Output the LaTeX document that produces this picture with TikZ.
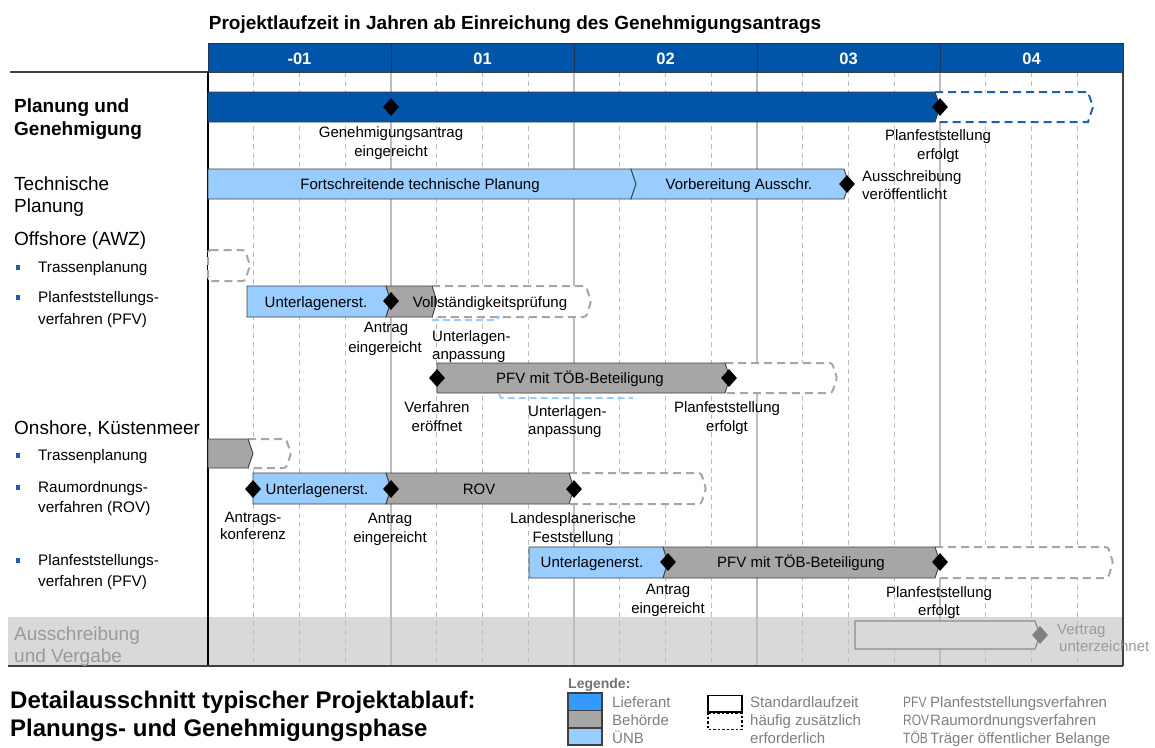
\documentclass[tikz,border=0pt]{standalone}
\usepackage{fontspec}
\usepackage{graphicx}
\setmainfont{Liberation Sans}
\usetikzlibrary{shapes.geometric}
\definecolor{hdrblue}{HTML}{0055A8}
\definecolor{hdredge}{HTML}{1F3458}
\definecolor{nbblue}{HTML}{99CCFF}
\definecolor{behgray}{HTML}{A6A6A6}
\definecolor{lieblue}{HTML}{3399FF}
\definecolor{bandgray}{HTML}{D9D9D9}
\definecolor{gridgray}{HTML}{BDBDBD}
\definecolor{dashgray}{HTML}{A6A6A6}
\definecolor{dashblue}{HTML}{2060B0}
\definecolor{edgegray}{HTML}{404040}
\definecolor{txtgray}{HTML}{7F7F7F}
\definecolor{bandtxt}{HTML}{9A9A9A}
\definecolor{agray}{HTML}{8C8C8C}
\definecolor{msgray}{HTML}{808080}
\definecolor{bulblue}{HTML}{1F5FAF}
% chevron bar: style, left x, tip x, top y, bottom y
\newcommand\chevR[5]{\path[#1] (#2,#4) -- ({#3-5},#4) -- (#3,{(#4+#5)/2}) -- ({#3-5},#5) -- (#2,#5) -- cycle;}
% notched chevron segment (left edge follows previous tip)
\newcommand\chevN[5]{\path[#1] ({#2-5},#4) -- ({#3-5},#4) -- (#3,{(#4+#5)/2}) -- ({#3-5},#5) -- ({#2-5},#5) -- (#2,{(#4+#5)/2}) -- cycle;}
% open dashed extension
\newcommand\chevD[5]{\path[#1] ({#2-5},#4) -- ({#3-5},#4) -- (#3,{(#4+#5)/2}) -- ({#3-5},#5) -- ({#2-5},#5);}
\newcommand\abbr[1]{\scalebox{0.8}[1]{#1}}
\begin{document}
\begin{tikzpicture}[x=1pt,y=-1pt,
  lbl/.style={font=\fontsize{15}{18}\selectfont, inner sep=0pt, anchor=base},
  lblw/.style={lbl, anchor=base west},
  rowlbl/.style={font=\fontsize{19}{22}\selectfont, inner sep=0pt, anchor=base west},
  bul/.style={font=\fontsize{15.3}{18}\selectfont, inner sep=0pt, anchor=base west},
  yr/.style={font=\bfseries\fontsize{16.5}{19}\selectfont, text=white, inner sep=0pt, anchor=base},
  leg/.style={font=\fontsize{15}{18}\selectfont, text=txtgray, inner sep=0pt, anchor=base west},
  barD/.style={fill=hdrblue, draw=edgegray, line width=0.9pt},
  barL/.style={fill=nbblue, draw=edgegray, line width=0.9pt},
  barG/.style={fill=behgray, draw=edgegray, line width=0.9pt},
  barA/.style={fill=bandgray, draw=agray, line width=1.2pt},
  dashG/.style={fill=white, draw=dashgray, line width=2pt, dash pattern=on 8pt off 5pt, rounded corners=2.5pt},
  dashB/.style={fill=white, draw=dashblue, line width=2pt, dash pattern=on 8pt off 5pt},
  dashL/.style={draw=nbblue, line width=2pt, dash pattern=on 7pt off 4pt},
  ms/.style={diamond, fill=black, minimum width=16pt, minimum height=18pt, inner sep=0pt},
  msg/.style={ms, fill=msgray},
  gsolid/.style={draw=gridgray, line width=1.2pt},
  gdash/.style={draw=gridgray, line width=0.8pt, dash pattern=on 5pt off 4pt},
  bulsq/.style={fill=bulblue, minimum width=4pt, minimum height=5pt, inner sep=0pt},
]
\useasboundingbox (0,0) rectangle (1155,747);
\fill[white] (0,0) rectangle (1155,747);

% ---- title
\node[font=\bfseries\fontsize{19}{22}\selectfont, inner sep=0pt, anchor=base] (title) at (515,29) {Projektlaufzeit in Jahren ab Einreichung des Genehmigungsantrags};

% ---- band Ausschreibung
\fill[bandgray] (8,617) rectangle (1123,666);

% ---- grid
\foreach \k in {1,2,3,5,6,7,9,10,11,13,14,15,17,18,19}
  \draw[gdash] ({208+45.75*\k},72) -- ({208+45.75*\k},666);
\foreach \xx in {391,574,757,940}
  \draw[gsolid] (\xx,72) -- (\xx,666);

% ---- header
\path[fill=hdrblue, draw=hdredge, line width=1pt] (208,43) rectangle (1123,72);
\foreach \xx in {391,574,757,940}
  \draw[hdredge, line width=1pt] (\xx,43) -- (\xx,72);
\node[yr] (y1) at (299.5,64) {-01};
\node[yr] (y2) at (482.5,64) {01};
\node[yr] (y3) at (665.5,64) {02};
\node[yr] (y4) at (848.5,64) {03};
\node[yr] (y5) at (1031.5,64) {04};

% ---- frame lines
\draw[edgegray, line width=1.6pt] (10,72) -- (1123,72);
\draw[black, line width=1.2pt] (208,72) -- (208,666);
\draw[edgegray, line width=1.2pt] (1123,72) -- (1123,666);
\draw[edgegray, line width=1.6pt] (8,666) -- (1123,666);

% ---- dashed extensions (drawn first)
\chevD{dashB}{940}{1093}{92}{122}
\chevR{dashG}{208}{250}{250}{281}
\chevD{dashG}{437}{591}{286}{317}
\chevD{dashG}{730}{837}{363}{393}
\chevD{dashG}{253}{291}{439}{468}
\chevD{dashG}{574}{706}{473}{504}
\chevD{dashG}{940}{1113}{547}{578}

% ---- Unterlagenanpassung (light blue dashed)
\draw[dashL] (432,320) -- (497,320) -- (499,316);
\draw[dashL] (499,394) -- (501,398) -- (633,398);

% ---- solid bars
\chevR{barD}{208}{940}{92}{122}
\chevR{barL}{208}{636}{169}{199}
\chevN{barL}{636}{849}{169}{199}
\chevR{barL}{247}{391}{286}{317}
\chevN{barG}{391}{437}{286}{317}
\chevR{barG}{437}{730}{363}{393}
\chevR{barG}{208}{253}{439}{468}
\chevR{barL}{253}{391}{473}{504}
\chevN{barG}{391}{574}{473}{504}
\chevR{barL}{529}{668}{547}{578}
\chevN{barG}{668}{940}{547}{578}
\chevR{barA}{855}{1040}{621}{649}

% ---- bar texts
\node[lbl] (b1) at (420,189) {Fortschreitende technische Planung};
\node[lbl] (b2) at (739,189) {Vorbereitung Ausschr.};
\node[lbl] (b3) at (316,307) {Unterlagenerst.};
\node[lbl] (b4) at (490,307) {Vollständigkeitsprüfung};
\node[lbl] (b5) at (580,383) {PFV mit TÖB-Beteiligung};
\node[lbl] (b6) at (317,494) {Unterlagenerst.};
\node[lbl] (b7) at (479,494) {ROV};
\node[lbl] (b8) at (592,567) {Unterlagenerst.};
\node[lbl] (b9) at (801,567) {PFV mit TÖB-Beteiligung};

% ---- milestones
\node[ms] (m1) at (391,107) {};
\node[ms] (m2) at (940,107) {};
\node[ms] (m3) at (847,184) {};
\node[ms] (m4) at (391,301) {};
\node[ms] (m5) at (437,378) {};
\node[ms] (m6) at (729,378) {};
\node[ms] (m7) at (253,489) {};
\node[ms] (m8) at (391,489) {};
\node[ms] (m9) at (574,489) {};
\node[ms] (m10) at (668,562) {};
\node[ms] (m11) at (940,562) {};
\node[msg] (m12) at (1040,635) {};

% ---- milestone labels
\node[lbl] (l1a) at (391,137) {Genehmigungsantrag};
\node[lbl] (l1b) at (391,156) {eingereicht};
\node[lbl] (l2a) at (938,140) {Planfeststellung};
\node[lbl] (l2b) at (938,159) {erfolgt};
\node[lblw] (l3a) at (862,181) {Ausschreibung};
\node[lblw] (l3b) at (862,199) {veröffentlicht};
\node[lbl] (l4a) at (386,332) {Antrag};
\node[lbl] (l4b) at (385,352) {eingereicht};
\node[lblw] (l5a) at (432,341) {Unterlagen-};
\node[lblw] (l5b) at (432,359) {anpassung};
\node[lbl] (l6a) at (437,412) {Verfahren};
\node[lbl] (l6b) at (437,431) {eröffnet};
\node[lblw] (l7a) at (528,416) {Unterlagen-};
\node[lblw] (l7b) at (528,434) {anpassung};
\node[lbl] (l8a) at (727,412) {Planfeststellung};
\node[lbl] (l8b) at (727,431) {erfolgt};
\node[lbl] (l9a) at (253,522) {Antrags-};
\node[lbl] (l9b) at (253,539) {konferenz};
\node[lbl] (l10a) at (390,523) {Antrag};
\node[lbl] (l10b) at (390,542) {eingereicht};
\node[lbl] (l11a) at (573,523) {Landesplanerische};
\node[lbl] (l11b) at (573,542) {Feststellung};
\node[lbl] (l12a) at (668,594) {Antrag};
\node[lbl] (l12b) at (668,613) {eingereicht};
\node[lbl] (l13a) at (939,597) {Planfeststellung};
\node[lbl] (l13b) at (939,615) {erfolgt};
\node[lblw, text=bandtxt] (l14a) at (1057,634) {Vertrag};
\node[lblw, text=bandtxt] (l14b) at (1059,651) {unterzeichnet};

% ---- row labels
\node[rowlbl, font=\bfseries\fontsize{19}{22}\selectfont] (r1a) at (14,112) {Planung und};
\node[rowlbl, font=\bfseries\fontsize{19}{22}\selectfont] (r1b) at (14,135) {Genehmigung};
\node[rowlbl] (r2a) at (14,190) {Technische};
\node[rowlbl] (r2b) at (14,212) {Planung};
\node[rowlbl] (r3) at (14,245) {Offshore (AWZ)};
\node[rowlbl] (r4) at (14,434) {Onshore, Küstenmeer};
\node[rowlbl, text=bandtxt] (r5a) at (14,640) {Ausschreibung};
\node[rowlbl, text=bandtxt] (r5b) at (14,662) {und Vergabe};

% ---- bullets
\node[bulsq] (q1) at (18,267) {};
\node[bul] (s1) at (38,272) {Trassenplanung};
\node[bulsq] (q2) at (18,297) {};
\node[bul] (s2a) at (38,302) {Planfeststellungs-};
\node[bul] (s2b) at (38,324) {verfahren (PFV)};
\node[bulsq] (q3) at (18,455) {};
\node[bul] (s3) at (38,460) {Trassenplanung};
\node[bulsq] (q4) at (18,487) {};
\node[bul] (s4a) at (38,492) {Raumordnungs-};
\node[bul] (s4b) at (38,512) {verfahren (ROV)};
\node[bulsq] (q5) at (18,560) {};
\node[bul] (s5a) at (38,565) {Planfeststellungs-};
\node[bul] (s5b) at (38,586) {verfahren (PFV)};

% ---- bottom title
\node[font=\bfseries\fontsize{24}{28}\selectfont, inner sep=0pt, anchor=base west] (bt1) at (10,708) {Detailausschnitt typischer Projektablauf:};
\node[font=\bfseries\fontsize{24}{28}\selectfont, inner sep=0pt, anchor=base west] (bt2) at (10,736) {Planungs- und Genehmigungsphase};

% ---- legend
\node[font=\bfseries\fontsize{14}{16}\selectfont, text=txtgray!90!black, inner sep=0pt, anchor=base west] (lg) at (568,688) {Legende:};
\path[fill=lieblue, draw=edgegray, line width=1.2pt] (568,693) rectangle (602,710.5);
\path[fill=behgray, draw=edgegray, line width=1.2pt] (568,710.5) rectangle (602,728);
\path[fill=nbblue, draw=edgegray, line width=1.2pt] (568,728) rectangle (602,745);
\node[leg] (g1) at (612,707) {Lieferant};
\node[leg] (g2) at (612,725.5) {Behörde};
\node[leg] (g3) at (612,743) {ÜNB};
\path[fill=white, draw=black, line width=1.2pt] (708,695.5) rectangle (742,712);
\draw[black, line width=1.2pt, dash pattern=on 2.5pt off 2pt] (708,712) -- (708,729.5) -- (742,729.5) -- (742,712);
\draw[black, line width=1.2pt, dash pattern=on 2.5pt off 2pt] (708,713.5) -- (742,713.5);
\node[leg] (g4) at (750,707) {Standardlaufzeit};
\node[leg] (g5) at (750,725.5) {häufig zusätzlich};
\node[leg] (g6) at (750,743) {erforderlich};
\node[leg] (a1) at (903,707) {\abbr{PFV}};
\node[leg] (a2) at (903,725.5) {\abbr{ROV}};
\node[leg] (a3) at (903,743) {\abbr{TÖB}};
\node[leg] (a4) at (930,707) {Planfeststellungsverfahren};
\node[leg] (a5) at (930,725.5) {Raumordnungsverfahren};
\node[leg] (a6) at (930,743) {Träger öffentlicher Belange};
\end{tikzpicture}
\end{document}
